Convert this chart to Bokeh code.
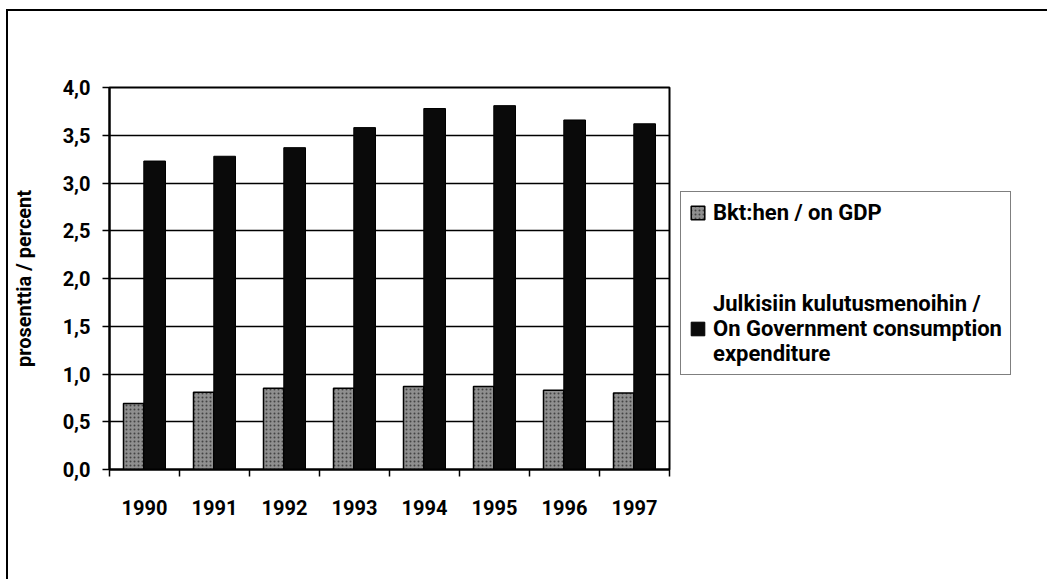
import numpy as np
from bokeh.plotting import figure
from bokeh.models import (Range1d, FixedTicker, CustomJSTickFormatter, Legend, LegendItem,
                          ColumnDataSource)
from bokeh.embed import file_html
from bokeh.resources import INLINE

# ---- data ----
years = ["1990", "1991", "1992", "1993", "1994", "1995", "1996", "1997"]
gdp_share = [0.69, 0.81, 0.85, 0.85, 0.87, 0.87, 0.83, 0.80]
gov_share = [3.23, 3.28, 3.37, 3.58, 3.78, 3.81, 3.66, 3.62]
label_gdp = "Bkt:hen / on GDP"
label_gov = "Julkisiin kulutusmenoihin /\nOn Government consumption\nexpenditure"
y_label = "prosenttia / percent"

FONT = "Roboto"

idx = np.arange(len(years)) + 0.5
src = ColumnDataSource(dict(x_gdp=idx - 0.155, x_gov=idx + 0.145,
                            gdp=gdp_share, gov=gov_share, year=years))

p = figure(frame_width=560, frame_height=382, output_backend="svg", toolbar_location=None,
           x_range=Range1d(0, len(years)), y_range=Range1d(0, 4.0),
           min_border_left=101, min_border_top=76, min_border_right=5,
           min_border_bottom=110)
p.margin = (9, 0, 0, 6)
p.styles = {"border-left": "2px solid black", "border-top": "2px solid black"}
p.background_fill_color = "white"
p.border_fill_color = "white"
p.outline_line_color = "black"
p.outline_line_width = 2

r_gdp = p.vbar(x="x_gdp", top="gdp", width=0.29, source=src, fill_color="#8f8f8f",
               line_color="black", line_width=1.5, hatch_pattern="dot",
               hatch_color="#222222", hatch_scale=4, hatch_alpha=0.7)
r_gov = p.vbar(x="x_gov", top="gov", width=0.31, source=src, fill_color="#0a0a0a",
               line_color="black", line_width=1)

# x axis: labels at category centres, ticks at category boundaries
p.xaxis.ticker = FixedTicker(ticks=list(idx), minor_ticks=list(range(len(years) + 1)))
p.xaxis.major_label_overrides = {float(v): y for v, y in zip(idx, years)}
p.xaxis.major_tick_out = 0
p.xaxis.major_tick_in = 0
p.xaxis.minor_tick_out = 7
p.xaxis.minor_tick_in = 0
p.xaxis.minor_tick_line_color = "black"
p.xaxis.minor_tick_line_width = 1.5
p.xaxis.axis_line_color = "black"
p.xaxis.axis_line_width = 2
p.xaxis.major_label_standoff = 23
p.xaxis.major_label_text_font = FONT
p.xaxis.major_label_text_font_style = "bold"
p.xaxis.major_label_text_font_size = "20px"
p.xaxis.major_label_text_color = "black"

# y axis
p.yaxis.ticker = FixedTicker(ticks=[i * 0.5 for i in range(9)])
p.yaxis.formatter = CustomJSTickFormatter(code="return tick.toFixed(1).replace('.', ',');")
p.yaxis.major_tick_out = 7
p.yaxis.major_tick_in = 0
p.yaxis.minor_tick_line_color = None
p.yaxis.major_tick_line_width = 1.5
p.yaxis.axis_line_color = "black"
p.yaxis.axis_line_width = 2
p.yaxis.major_label_standoff = 12
p.yaxis.major_label_text_font = FONT
p.yaxis.major_label_text_font_style = "bold"
p.yaxis.major_label_text_font_size = "20px"
p.yaxis.major_label_text_color = "black"
p.yaxis.axis_label = y_label
p.yaxis.axis_label_text_font = FONT
p.yaxis.axis_label_text_font_style = "bold"
p.yaxis.axis_label_text_font_size = "20px"
p.yaxis.axis_label_text_color = "black"
p.yaxis.axis_label_standoff = 24

p.xgrid.grid_line_color = None
p.ygrid.grid_line_color = "black"
p.ygrid.grid_line_width = 1.5
p.ygrid.ticker = FixedTicker(ticks=[i * 0.5 for i in range(9)])

legend = Legend(items=[LegendItem(label=label_gdp, renderers=[r_gdp]),
                       LegendItem(label=label_gov, renderers=[r_gov])],
                location=(11, 94))
legend.label_text_font = FONT
legend.label_text_font_style = "bold"
legend.label_text_font_size = "22px"
legend.label_text_color = "black"
legend.glyph_width = 17
legend.glyph_height = 17
legend.label_standoff = 7
legend.spacing = 66
legend.padding = 8
legend.margin = 0
legend.border_line_color = "black"
legend.border_line_width = 1.5
legend.background_fill_color = "white"
legend.background_fill_alpha = 1
p.add_layout(legend, "right")

open("out.html", "w").write(file_html(p, INLINE))
